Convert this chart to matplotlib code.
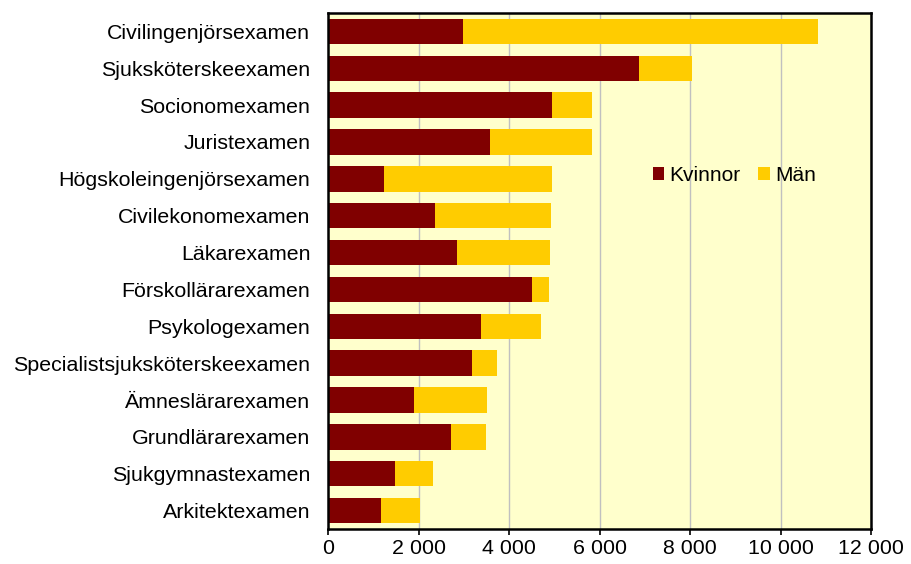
import matplotlib.pyplot as plt
from matplotlib.ticker import FuncFormatter

## ----- DATA ------ ##

examen = ["Civilingenjörsexamen", "Sjuksköterskeexamen", "Socionomexamen",
          "Juristexamen", "Högskoleingenjörsexamen", "Civilekonomexamen",
          "Läkarexamen", "Förskollärarexamen", "Psykologexamen",
          "Specialistsjuksköterskeexamen", "Ämneslärarexamen",
          "Grundlärarexamen", "Sjukgymnastexamen", "Arkitektexamen"]
kvinnor = [2975, 6860, 4950, 3570, 1225, 2350, 2840, 4500, 3370, 3170,
           1885, 2715, 1475, 1160]
man = [7855, 1180, 890, 2255, 3730, 2580, 2055, 370, 1330, 565,
       1625, 765, 845, 860]

## ----- PLOT ------ ##

plt.rcParams['font.family'] = ['Liberation Sans', 'DejaVu Sans']

fig = plt.figure(figsize=(9.12, 5.64), dpi=100)
ax = fig.add_axes([0.36, 0.062, 0.595, 0.915])
ax.set_facecolor('#FFFFCC')

pos = list(range(len(examen)))
ax.barh(pos, kvinnor, height=0.69, color='#800000', label='Kvinnor', zorder=2)
ax.barh(pos, man, left=kvinnor, height=0.69, color='#FFCC00', label='Män', zorder=2)

ax.set_yticks(pos)
ax.set_yticklabels(examen, fontsize=15.4)
ax.set_ylim(len(examen) - 0.5, -0.5)
ax.tick_params(axis='y', length=0, pad=13)

ax.set_xlim(0, 12000)
ax.set_xticks(range(0, 12001, 2000))
ax.xaxis.set_major_formatter(FuncFormatter(lambda v, p: f"{int(v):,}".replace(",", " ")))
ax.tick_params(axis='x', labelsize=15.4, length=4, width=1.2, direction='out', pad=3)
ax.grid(axis='x', color='#C0C0C0', linewidth=1, zorder=1)

for s in ax.spines.values():
    s.set_linewidth(1.8)
    s.set_color('black')

ax.legend(loc='center left', bbox_to_anchor=(0.598, 0.686), ncol=2, frameon=False,
          fontsize=15, handlelength=0.55, handleheight=0.6, handletextpad=0.25,
          columnspacing=0.85, borderaxespad=0, borderpad=0)

fig.savefig("out.png", dpi=100)
